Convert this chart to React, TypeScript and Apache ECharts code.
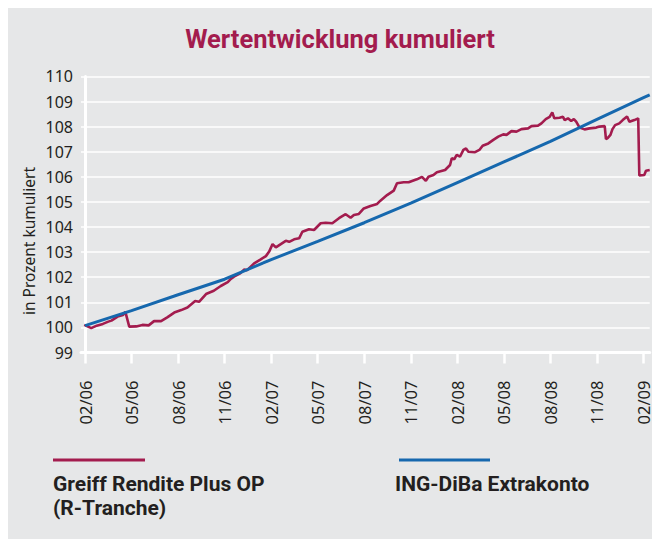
import { useEffect, useRef } from "react";
import * as echarts from "echarts";

// Month offsets counted from 02/2006 (0) to 02/2009 (36)
const tickMonths = [0, 3, 6, 9, 12, 15, 18, 21, 24, 27, 30, 33, 36];
const tickLabels = ["02/06", "05/06", "08/06", "11/06", "02/07", "05/07", "08/07", "11/07", "02/08", "05/08", "08/08", "11/08", "02/09"];

const greiffMonths = [
  -0.05, 0.4, 0.75, 1.15, 1.5, 1.7, 1.85, 2.1, 2.45, 2.6, 2.85, 3.3, 3.7, 4.1, 4.45, 4.9, 5.3, 5.75,
  6.2, 6.6, 7.1, 7.35, 7.8, 8.3, 8.75, 9.2, 9.4, 9.6, 10.0, 10.27, 10.45, 10.9, 11.3, 11.66, 11.87,
  12.09, 12.3, 12.62, 12.94, 13.16, 13.48, 13.8, 14.01, 14.44, 14.76, 15.19, 15.51, 15.94, 16.37,
  16.8, 17.12, 17.33, 17.65, 17.97, 18.4, 18.83, 19.04, 19.47, 19.9, 20.11, 20.54, 20.86, 21.39,
  21.72, 21.97, 22.14, 22.46, 22.68, 23.21, 23.53, 23.64, 23.8, 23.96, 24.17, 24.39, 24.56, 24.71,
  25.14, 25.42, 25.63, 26.0, 26.32, 26.64, 26.96, 27.17, 27.49, 27.81, 28.13, 28.56, 28.78, 29.2,
  29.42, 29.7, 29.95, 30.12, 30.25, 30.59, 30.81, 30.92, 31.13, 31.34, 31.51, 31.66, 31.88, 32.2,
  32.52, 32.95, 33.16, 33.5, 33.58, 33.7, 33.87, 34.0, 34.17, 34.44, 34.66, 34.94, 35.09, 35.41,
  35.66, 35.73, 36.05, 36.16, 36.4,
];
const greiffValues = [
  100.1, 99.97, 100.07, 100.14, 100.23, 100.27, 100.33, 100.43, 100.49, 100.62, 100.03, 100.04, 100.1,
  100.08, 100.25, 100.25, 100.4, 100.59, 100.69, 100.79, 101.05, 101.02, 101.33, 101.46, 101.65,
  101.8, 101.93, 102.02, 102.15, 102.31, 102.28, 102.55, 102.7, 102.84, 103.02, 103.32, 103.19,
  103.32, 103.45, 103.41, 103.51, 103.55, 103.81, 103.91, 103.88, 104.15, 104.17, 104.15, 104.35,
  104.51, 104.37, 104.48, 104.52, 104.74, 104.84, 104.92, 105.05, 105.27, 105.45, 105.74, 105.78,
  105.78, 105.9, 106.0, 105.84, 106.0, 106.07, 106.18, 106.27, 106.47, 106.74, 106.7, 106.87, 106.8,
  107.07, 107.13, 107.0, 106.98, 107.07, 107.24, 107.33, 107.47, 107.6, 107.69, 107.67, 107.82,
  107.8, 107.9, 107.93, 108.02, 108.04, 108.13, 108.3, 108.39, 108.57, 108.33, 108.35, 108.39,
  108.26, 108.33, 108.22, 108.3, 108.2, 107.96, 107.89, 107.93, 107.96, 108.0, 108.02, 107.5,
  107.55, 107.67, 107.9, 108.06, 108.13, 108.26, 108.4, 108.19, 108.26, 108.33, 106.05, 106.07,
  106.24, 106.27,
];

const ingMonths = [0, 3, 6, 9, 12, 15, 18, 21, 24, 27, 30, 33, 36, 36.4];
const ingValues = [100.07, 100.67, 101.3, 101.92, 102.7, 103.43, 104.17, 104.95, 105.77, 106.59, 107.41, 108.29, 109.15, 109.26];

const titleText = "Wertentwicklung kumuliert";
const yAxisName = "in Prozent kumuliert";
const greiffName = "Greiff Rendite Plus OP";
const greiffName2 = "(R-Tranche)";
const ingName = "ING-DiBa Extrakonto";

const RED = "#A31C4E";
const BLUE = "#1668AE";
const BG = "#E6E7E8";
const TEXT = "#231F20";

export default function App() {
  const ref = useRef<HTMLDivElement>(null);
  useEffect(() => {
    if (!ref.current) return;
    const chart = echarts.init(ref.current, undefined, { renderer: "svg" });
    const greiffData = greiffMonths.map((m, i) => [m, greiffValues[i]]);
    const ingData = ingMonths.map((m, i) => [m, ingValues[i]]);
    chart.setOption({
      animation: false,
      backgroundColor: BG,
      grid: { left: 73, top: 68.4, right: 0, bottom: 186.5, containLabel: false },
      xAxis: {
        type: "value",
        min: -0.26,
        max: 36.4,
        axisLine: { show: true, lineStyle: { color: "#fff", width: 3 } },
        axisTick: { show: true, customValues: tickMonths, length: 11, lineStyle: { color: "#fff", width: 2.5 } },
        axisLabel: {
          customValues: tickMonths,
          formatter: (v: number) => {
            const i = tickMonths.indexOf(Math.round(v));
            return i >= 0 ? tickLabels[i] : "";
          },
          rotate: 90,
          margin: 28,
          fontSize: 16.5,
          lineHeight: 12,
          color: TEXT,
          fontFamily: "Noto Sans",
        },
        splitLine: { show: false },
      },
      yAxis: {
        type: "value",
        min: 99,
        max: 110,
        interval: 1,
        axisLine: { show: true, lineStyle: { color: "#fff", width: 3 } },
        axisTick: { show: false },
        splitLine: { show: true, lineStyle: { color: "#fff", width: 1.5 } },
        axisLabel: { fontSize: 16, color: TEXT, margin: 8, fontFamily: "Noto Sans" },
      },
      series: [
        {
          name: greiffName,
          type: "line",
          data: greiffData,
          symbol: "none",
          lineStyle: { color: RED, width: 2.6 },
          z: 2,
        },
        {
          name: ingName,
          type: "line",
          data: ingData,
          symbol: "none",
          lineStyle: { color: BLUE, width: 3 },
          z: 3,
        },
      ],
      graphic: [
        {
          type: "text",
          x: 332,
          y: 31,
          style: {
            text: titleText,
            fill: RED,
            font: "bold 25.5px Roboto",
            textAlign: "center",
            textVerticalAlign: "middle",
          },
        },
        {
          type: "text",
          x: 21,
          y: 233,
          rotation: Math.PI / 2,
          style: {
            text: yAxisName,
            fill: TEXT,
            font: "15.5px 'Noto Sans'",
            textAlign: "center",
            textVerticalAlign: "middle",
          },
        },
        {
          type: "line",
          shape: { x1: 45, y1: 452, x2: 137, y2: 452 },
          style: { stroke: RED, lineWidth: 3 },
        },
        {
          type: "text",
          x: 45,
          y: 476,
          style: { text: greiffName, fill: TEXT, font: "bold 21px Roboto", textVerticalAlign: "middle" },
        },
        {
          type: "text",
          x: 45,
          y: 500,
          style: { text: greiffName2, fill: TEXT, font: "bold 21px Roboto", textVerticalAlign: "middle" },
        },
        {
          type: "line",
          shape: { x1: 391, y1: 452, x2: 482, y2: 452 },
          style: { stroke: BLUE, lineWidth: 3 },
        },
        {
          type: "text",
          x: 387,
          y: 476,
          style: { text: ingName, fill: TEXT, font: "bold 21px Roboto", textVerticalAlign: "middle" },
        },
      ],
    });
    return () => chart.dispose();
  }, []);
  return (
    <div
      ref={ref}
      style={{ position: "fixed", left: 8, top: 8, width: 644, height: 531 }}
    />
  );
}
